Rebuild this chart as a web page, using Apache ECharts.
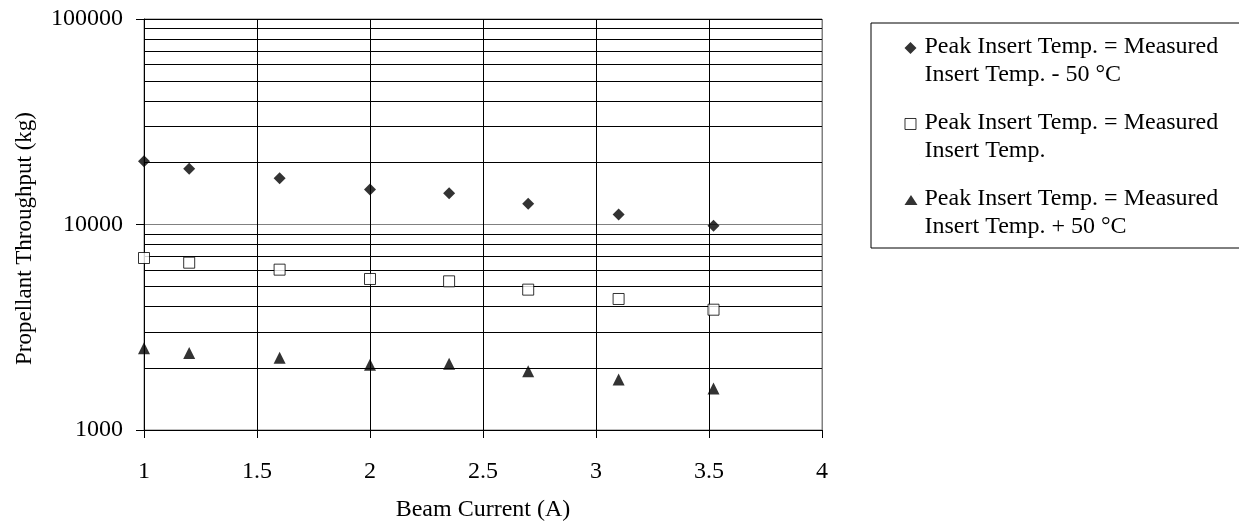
<!DOCTYPE html>
<html>
<head>
<meta charset="utf-8">
<script src="https://cdn.jsdelivr.net/npm/echarts@6/dist/echarts.min.js"></script>
<style>
  html, body { margin: 0; padding: 0; background: #fff; }
  #chart { width: 1239px; height: 525px; }
</style>
</head>
<body>
<div id="chart"></div>
<script>
// Beam current (A) at each test point
const beamCurrent = [1, 1.2, 1.6, 2, 2.35, 2.7, 3.1, 3.52];

// Propellant throughput (kg) for each peak insert temperature assumption
const throughputMinus50 = [20300, 18700, 16800, 14800, 14200, 12600, 11200, 9870];
const throughputMeasured = [6870, 6520, 6030, 5430, 5290, 4820, 4340, 3850];
const throughputPlus50 = [2500, 2370, 2250, 2080, 2100, 1930, 1760, 1590];

const seriesNames = [
  'Peak Insert Temp. = Measured\nInsert Temp. - 50 °C',
  'Peak Insert Temp. = Measured\nInsert Temp.',
  'Peak Insert Temp. = Measured\nInsert Temp. + 50 °C'
];

// Intermediate log gridlines
const minorGridValues = [2000, 3000, 4000, 5000, 6000, 7000, 8000, 9000,
                         20000, 30000, 40000, 50000, 60000, 70000, 80000, 90000];

const FONT = '"Liberation Serif", "Times New Roman", serif';

function pairs(xs, ys) {
  return xs.map((x, i) => [x, ys[i]]);
}

// Legend icons sit level with the first line of each two-line entry
const EXT = 'M0,0L0,0.01M15,56L15,56.01';
const legendIcons = [
  'path://M6,9L12,15L6,21L0,15Z' + EXT,
  'path://M0.5,9.5L11.5,9.5L11.5,20.5L0.5,20.5Z' + EXT,
  'path://M6.5,10L13,20L0,20Z' + EXT
];

const chart = echarts.init(document.getElementById('chart'), null, { renderer: 'canvas' });

chart.setOption({
  animation: false,
  backgroundColor: '#fff',
  textStyle: { fontFamily: FONT, color: '#000' },
  grid: {
    left: 144, top: 19, width: 678, height: 411,
    outerBoundsMode: 'none',
    containLabel: false,
    show: true, borderColor: '#808080', borderWidth: 1,
    backgroundColor: 'transparent'
  },
  legend: {
    orient: 'vertical',
    left: 871, top: 23,
    padding: [10, 30, 7, 33],
    itemGap: 19.5,
    itemWidth: 15, itemHeight: 56,
    borderColor: '#000', borderWidth: 1,
    selectedMode: false,
    textStyle: { fontFamily: FONT, fontSize: 24, color: '#000', lineHeight: 28 },
    data: [
      { name: seriesNames[0], icon: legendIcons[0], itemStyle: { color: '#000', borderWidth: 0 } },
      { name: seriesNames[1], icon: legendIcons[1], itemStyle: { color: '#fff', borderColor: '#000', borderWidth: 1 } },
      { name: seriesNames[2], icon: legendIcons[2], itemStyle: { color: '#000', borderWidth: 0 } }
    ]
  },
  xAxis: {
    type: 'value',
    min: 1, max: 4, interval: 0.5,
    name: 'Beam Current (A)',
    nameLocation: 'middle',
    nameGap: 68,
    nameTextStyle: { fontFamily: FONT, fontSize: 24, color: '#000' },
    axisLine: { show: true, lineStyle: { color: '#000', width: 1 } },
    axisTick: { show: true, length: 8, lineStyle: { color: '#000' } },
    axisLabel: { fontFamily: FONT, fontSize: 24, color: '#000', margin: 30 },
    splitLine: {
      show: true,
      lineStyle: { color: ['#000', '#000', '#000', '#000', '#000', '#000', '#808080'], width: 1 }
    }
  },
  yAxis: {
    type: 'log',
    logBase: 10,
    min: 1000, max: 100000,
    name: 'Propellant Throughput (kg)',
    nameLocation: 'middle',
    nameGap: 108,
    nameTextStyle: { fontFamily: FONT, fontSize: 23, color: '#000', padding: [0, 28, 0, 0] },
    axisLine: { show: true, lineStyle: { color: '#000', width: 1 } },
    axisTick: { show: true, length: 8, lineStyle: { color: '#000' } },
    axisLabel: {
      fontFamily: FONT, fontSize: 24, color: '#000', margin: 21,
      formatter: v => String(Math.round(v))
    },
    splitLine: {
      show: true,
      lineStyle: { color: ['#000', '#000', '#808080'], width: 1 }
    }
  },
  series: [
    {
      name: seriesNames[0],
      type: 'scatter',
      z: 3,
      symbol: 'diamond',
      symbolSize: 12,
      itemStyle: { color: '#000' },
      data: pairs(beamCurrent, throughputMinus50),
      markLine: {
        silent: true,
        z: 1,
        symbol: ['none', 'none'],
        label: { show: false },
        lineStyle: { color: '#000', width: 1, type: 'solid' },
        emphasis: { disabled: true },
        data: minorGridValues.map(v => ({ yAxis: v }))
      }
    },
    {
      name: seriesNames[1],
      type: 'scatter',
      z: 3,
      symbol: 'rect',
      symbolSize: 11,
      itemStyle: { color: '#fff', borderColor: '#000', borderWidth: 1 },
      data: pairs(beamCurrent, throughputMeasured)
    },
    {
      name: seriesNames[2],
      type: 'scatter',
      z: 3,
      symbol: 'triangle',
      symbolSize: 12,
      itemStyle: { color: '#000' },
      data: pairs(beamCurrent, throughputPlus50)
    }
  ]
});
</script>
</body>
</html>
